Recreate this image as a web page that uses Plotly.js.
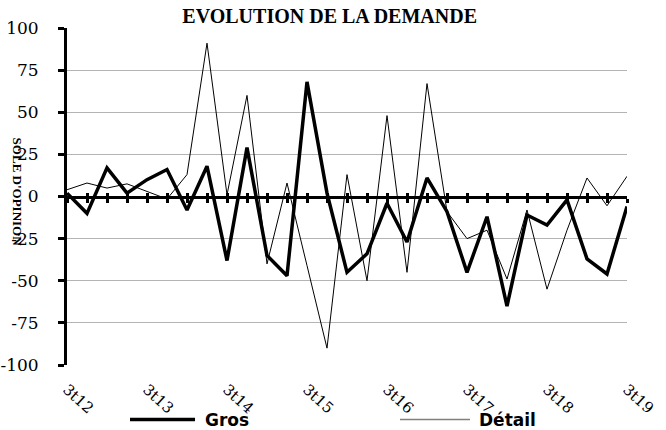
<!DOCTYPE html>
<html>
<head>
<meta charset="utf-8">
<script src="https://cdn.plot.ly/plotly-3.0.1.min.js"></script>
<style>html,body{margin:0;padding:0;background:#fff;}#chart{width:666px;height:430px;}</style>
</head>
<body>
<div id="chart"></div>
<script>
var quarters = ["3t12","4t12","1t13","2t13","3t13","4t13","1t14","2t14","3t14","4t14","1t15","2t15","3t15","4t15","1t16","2t16","3t16","4t16","1t17","2t17","3t17","4t17","1t18","2t18","3t18","4t18","1t19","2t19","3t19"];
var gros = [2, -10, 17, 2, 10, 16, -8, 18, -38, 29, -35, -47, 68, 2, -45, -34, -4, -27, 11, -9, -45, -12, -65, -11, -17, -2, -37, -46, -6];
var detail = [4, 8, 5, 7.5, 3, -1.5, 13, 91, 1, 60, -40, 8, -41, -90, 13, -50, 48, -45, 67, -9, -25, -20, -49, -8, -55, -20, 11, -5.5, 12];
var tickLabels = ["3t12","3t13","3t14","3t15","3t16","3t17","3t18","3t19"];
var yTicks = [-100,-75,-50,-25,0,25,50,75,100];
var yTickText = yTicks.map(function (v) { return String(v); });
var seriesNames = ["Gros","Détail"];

var traces = [
  {x: quarters, y: gros, type: "scatter", mode: "lines", name: seriesNames[0],
   line: {color: "#000", width: 3.5}, showlegend: false},
  {x: quarters, y: detail, type: "scatter", mode: "lines", name: seriesNames[1],
   line: {color: "#000", width: 1}, showlegend: false},
  {x: [], y: [], xaxis: "x2", type: "scatter", mode: "lines", showlegend: false, hoverinfo: "skip"},
  {x: [], y: [], xaxis: "x3", type: "scatter", mode: "lines", showlegend: false, hoverinfo: "skip"}
];

var serif = "DejaVu Serif, serif";
var tserif = "Liberation Serif, Times New Roman, serif";
var sans = "DejaVu Sans, sans-serif";
var zeroAxis = function (tickSide) {
  return {type: "linear", overlaying: "x", anchor: "free", position: 0.5, range: [0, 28],
          tick0: 0, dtick: 1, showline: tickSide === "outside", linecolor: "#000", linewidth: 3,
          ticks: tickSide, ticklen: 4, tickwidth: 3, tickcolor: "#000",
          showticklabels: false, showgrid: false, zeroline: false, automargin: false};
};

var legY = -0.162;
var layout = {
  width: 666, height: 430,
  margin: {l: 67, r: 39, t: 28, b: 65},
  paper_bgcolor: "#fff", plot_bgcolor: "#fff",
  showlegend: false,
  title: {text: "<b>EVOLUTION DE LA DEMANDE</b>", x: 0.495, xanchor: "center", xref: "container",
          y: 0.963, yanchor: "middle", yref: "container",
          font: {family: tserif, size: 20, color: "#000"}},
  xaxis: {type: "category", range: [0, 28], tickvals: tickLabels, ticktext: tickLabels,
          tickangle: 42, showgrid: false, zeroline: false, showline: false,
          ticks: "outside", ticklen: 9, tickcolor: "rgba(0,0,0,0)", automargin: false,
          tickfont: {family: serif, size: 15, color: "#000"}},
  xaxis2: zeroAxis("outside"),
  xaxis3: zeroAxis("inside"),
  yaxis: {range: [-100, 100], tickvals: yTicks, ticktext: yTickText,
          showgrid: true, gridcolor: "#b4b4b4", gridwidth: 1,
          zeroline: false, showline: true, linecolor: "#000", linewidth: 3, automargin: false,
          ticks: "outside", ticklen: 6, tickwidth: 3, tickcolor: "#000", ticklabelstandoff: 16,
          tickfont: {family: serif, size: 17, color: "#000"}},
  shapes: [
    {type: "line", xref: "paper", yref: "paper", x0: 0.1125, x1: 0.2286, y0: legY, y1: legY,
     line: {color: "#000", width: 3.5}},
    {type: "line", xref: "paper", yref: "paper", x0: 0.5946, x1: 0.7196, y0: legY, y1: legY,
     line: {color: "#808080", width: 1.5}}
  ],
  annotations: [
    {text: "<b>SOLE D'OPINION</b>", xref: "paper", yref: "paper", x: -0.089, y: 0.514,
     showarrow: false, textangle: 90, xanchor: "center", yanchor: "middle",
     font: {family: tserif, size: 13, color: "#000"}},
    {text: "<b>" + seriesNames[0] + "</b>", xref: "paper", yref: "paper", x: 0.243, y: legY,
     showarrow: false, xanchor: "left", yanchor: "middle",
     font: {family: sans, size: 17, color: "#000"}},
    {text: "<b>" + seriesNames[1] + "</b>", xref: "paper", yref: "paper", x: 0.732, y: legY,
     showarrow: false, xanchor: "left", yanchor: "middle",
     font: {family: sans, size: 17, color: "#000"}}
  ]
};

Plotly.newPlot("chart", traces, layout, {displayModeBar: false, staticPlot: true});
</script>
</body>
</html>
